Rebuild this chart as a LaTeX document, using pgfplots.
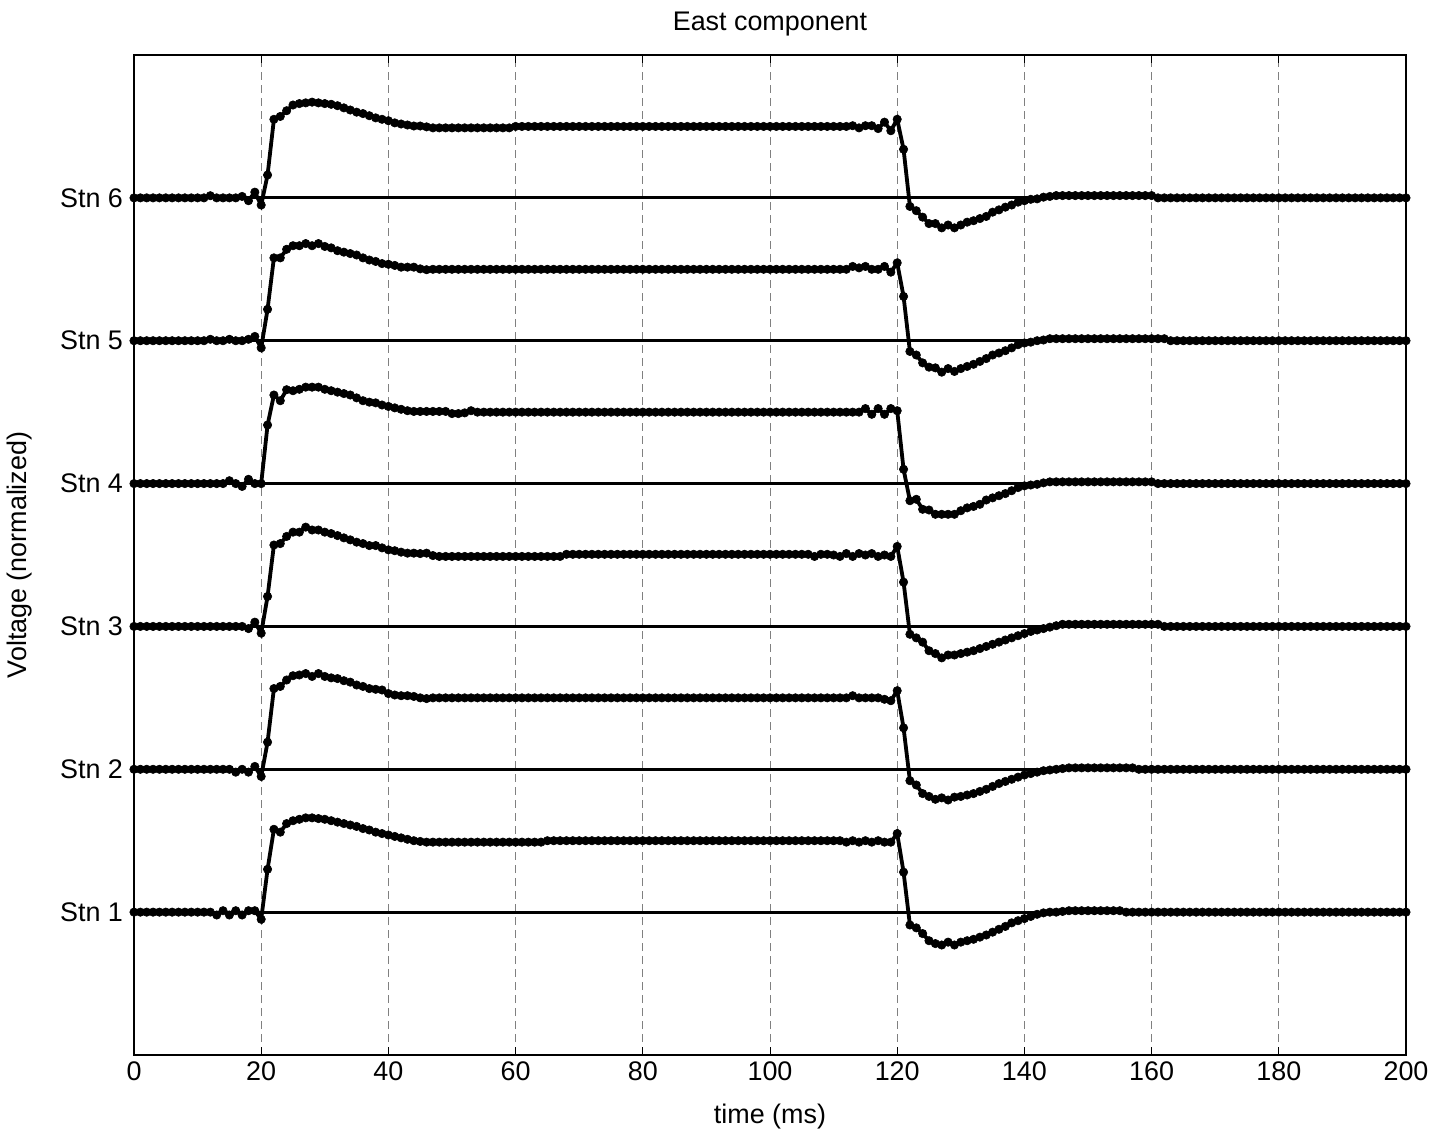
\documentclass[border=0pt]{standalone}
\usepackage{fontspec}
\setmainfont{Liberation Sans}
\usepackage{pgfplots}
\usepackage{pgfplotstable}
\pgfplotsset{compat=1.18}

% East-component voltage per station, deviation from each station's baseline
% t in ms, one sample per ms
\pgfplotstableread{
t s1 s2 s3 s4 s5 s6
0 0 0 0 0 0 0
1 0 0 0 0 0 0
2 0 0 0 0 0 0
3 0 0 0 0 0 0
4 0 0 0 0 0 0
5 0 0 0 0 0 0
6 0 0 0 0 0 0
7 0 0 0 0 0 0
8 0 0 0 0 0 0
9 0 0 0 0 0 0
10 0 0 0 0 0 0
11 0 0 0 0 0 0
12 0 0 0 0 0.01 0.015
13 -0.02 0 0 0 0 0
14 0.01 0 0 0 0 0
15 -0.02 0 0 0.02 0.01 0
16 0.01 -0.02 0 0 0 0
17 -0.02 0 0 -0.02 0 0.01
18 0.01 -0.02 -0.015 0.03 0.01 -0.02
19 0.01 0.02 0.03 0 0.03 0.04
20 -0.05 -0.05 -0.047 0 -0.05 -0.05
21 0.30 0.19 0.21 0.41 0.22 0.16
22 0.58 0.565 0.57 0.62 0.58 0.55
23 0.56 0.58 0.58 0.58 0.58 0.57
24 0.62 0.625 0.63 0.657 0.64 0.61
25 0.64 0.655 0.66 0.65 0.665 0.65
26 0.65 0.66 0.66 0.66 0.665 0.66
27 0.66 0.67 0.695 0.675 0.68 0.665
28 0.66 0.65 0.675 0.675 0.665 0.67
29 0.655 0.67 0.675 0.675 0.68 0.665
30 0.65 0.65 0.66 0.66 0.66 0.66
31 0.64 0.64 0.65 0.65 0.65 0.655
32 0.63 0.635 0.636 0.64 0.63 0.645
33 0.62 0.62 0.62 0.63 0.62 0.63
34 0.61 0.61 0.606 0.62 0.61 0.615
35 0.60 0.59 0.59 0.60 0.60 0.60
36 0.585 0.58 0.58 0.58 0.58 0.59
37 0.575 0.565 0.566 0.57 0.565 0.575
38 0.56 0.56 0.566 0.565 0.555 0.56
39 0.55 0.555 0.55 0.55 0.54 0.55
40 0.54 0.53 0.536 0.54 0.535 0.54
41 0.53 0.52 0.53 0.53 0.527 0.525
42 0.52 0.515 0.52 0.52 0.515 0.517
43 0.51 0.515 0.513 0.51 0.515 0.51
44 0.50 0.51 0.513 0.505 0.515 0.503
45 0.495 0.50 0.51 0.505 0.503 0.503
46 0.49 0.495 0.513 0.505 0.497 0.497
47 0.49 0.5 0.496 0.505 0.5 0.49
48 0.49 0.5 0.49 0.505 0.5 0.49
49 0.49 0.5 0.49 0.505 0.5 0.49
50 0.49 0.5 0.49 0.49 0.5 0.49
51 0.49 0.5 0.49 0.49 0.5 0.49
52 0.49 0.5 0.49 0.495 0.5 0.49
53 0.49 0.5 0.49 0.51 0.5 0.49
54 0.49 0.5 0.49 0.5 0.5 0.49
55 0.49 0.5 0.49 0.5 0.5 0.49
56 0.49 0.5 0.49 0.5 0.5 0.49
57 0.49 0.5 0.49 0.5 0.5 0.49
58 0.49 0.5 0.49 0.5 0.5 0.49
59 0.49 0.5 0.49 0.5 0.5 0.49
60 0.49 0.5 0.49 0.5 0.5 0.5
61 0.49 0.5 0.49 0.5 0.5 0.5
62 0.49 0.5 0.49 0.5 0.5 0.5
63 0.49 0.5 0.49 0.5 0.5 0.5
64 0.49 0.5 0.49 0.5 0.5 0.5
65 0.5 0.5 0.49 0.5 0.5 0.5
66 0.5 0.5 0.49 0.5 0.5 0.5
67 0.5 0.5 0.49 0.5 0.5 0.5
68 0.5 0.5 0.505 0.5 0.5 0.5
69 0.5 0.5 0.505 0.5 0.5 0.5
70 0.5 0.5 0.505 0.5 0.5 0.5
71 0.5 0.5 0.505 0.5 0.5 0.5
72 0.5 0.5 0.505 0.5 0.5 0.5
73 0.5 0.5 0.505 0.5 0.5 0.5
74 0.5 0.5 0.505 0.5 0.5 0.5
75 0.5 0.5 0.505 0.5 0.5 0.5
76 0.5 0.5 0.505 0.5 0.5 0.5
77 0.5 0.5 0.505 0.5 0.5 0.5
78 0.5 0.5 0.505 0.5 0.5 0.5
79 0.5 0.5 0.505 0.5 0.5 0.5
80 0.5 0.5 0.505 0.5 0.5 0.5
81 0.5 0.5 0.505 0.5 0.5 0.5
82 0.5 0.5 0.505 0.5 0.5 0.5
83 0.5 0.5 0.505 0.5 0.5 0.5
84 0.5 0.5 0.505 0.5 0.5 0.5
85 0.5 0.5 0.505 0.5 0.5 0.5
86 0.5 0.5 0.505 0.5 0.5 0.5
87 0.5 0.5 0.505 0.5 0.5 0.5
88 0.5 0.5 0.505 0.5 0.5 0.5
89 0.5 0.5 0.505 0.5 0.5 0.5
90 0.5 0.5 0.505 0.5 0.5 0.5
91 0.5 0.5 0.505 0.5 0.5 0.5
92 0.5 0.5 0.505 0.5 0.5 0.5
93 0.5 0.5 0.505 0.5 0.5 0.5
94 0.5 0.5 0.505 0.5 0.5 0.5
95 0.5 0.5 0.505 0.5 0.5 0.5
96 0.5 0.5 0.505 0.5 0.5 0.5
97 0.5 0.5 0.505 0.5 0.5 0.5
98 0.5 0.5 0.505 0.5 0.5 0.5
99 0.5 0.5 0.505 0.5 0.5 0.5
100 0.5 0.5 0.505 0.5 0.5 0.5
101 0.5 0.5 0.505 0.5 0.5 0.5
102 0.5 0.5 0.505 0.5 0.5 0.5
103 0.5 0.5 0.505 0.5 0.5 0.5
104 0.5 0.5 0.505 0.5 0.5 0.5
105 0.5 0.5 0.505 0.5 0.5 0.5
106 0.5 0.5 0.505 0.5 0.5 0.5
107 0.5 0.5 0.49 0.5 0.5 0.5
108 0.5 0.5 0.505 0.5 0.5 0.5
109 0.5 0.5 0.505 0.5 0.5 0.5
110 0.5 0.5 0.5 0.5 0.5 0.5
111 0.5 0.5 0.49 0.5 0.5 0.5
112 0.49 0.5 0.51 0.5 0.5 0.5
113 0.5 0.515 0.49 0.5 0.52 0.505
114 0.49 0.5 0.51 0.5 0.51 0.49
115 0.5 0.5 0.5 0.525 0.52 0.505
116 0.49 0.5 0.51 0.485 0.5 0.505
117 0.5 0.5 0.49 0.525 0.5 0.485
118 0.49 0.49 0.5 0.485 0.52 0.53
119 0.49 0.48 0.49 0.525 0.48 0.47
120 0.55 0.55 0.56 0.51 0.545 0.55
121 0.28 0.29 0.31 0.10 0.31 0.34
122 -0.09 -0.08 -0.055 -0.12 -0.075 -0.06
123 -0.11 -0.11 -0.08 -0.11 -0.10 -0.09
124 -0.15 -0.17 -0.11 -0.18 -0.155 -0.135
125 -0.20 -0.19 -0.17 -0.185 -0.185 -0.18
126 -0.22 -0.21 -0.19 -0.215 -0.19 -0.18
127 -0.23 -0.20 -0.22 -0.215 -0.22 -0.21
128 -0.21 -0.215 -0.20 -0.215 -0.195 -0.19
129 -0.23 -0.195 -0.20 -0.215 -0.215 -0.21
130 -0.21 -0.19 -0.19 -0.19 -0.195 -0.19
131 -0.20 -0.18 -0.18 -0.17 -0.18 -0.17
132 -0.19 -0.17 -0.17 -0.16 -0.165 -0.16
133 -0.175 -0.155 -0.155 -0.145 -0.145 -0.145
134 -0.16 -0.14 -0.14 -0.115 -0.125 -0.13
135 -0.14 -0.12 -0.125 -0.10 -0.10 -0.10
136 -0.12 -0.10 -0.11 -0.085 -0.086 -0.084
137 -0.10 -0.085 -0.095 -0.07 -0.07 -0.065
138 -0.075 -0.07 -0.08 -0.05 -0.05 -0.05
139 -0.06 -0.055 -0.065 -0.028 -0.028 -0.03
140 -0.045 -0.04 -0.05 -0.016 -0.016 -0.02
141 -0.03 -0.03 -0.035 -0.01 -0.01 -0.01
142 -0.015 -0.02 -0.025 -0.005 0 -0.007
143 -0.005 -0.01 -0.015 0.005 0.005 0.005
144 0 -0.005 -0.005 0.012 0.014 0.01
145 0 0 0.005 0.012 0.014 0.016
146 0.005 0.005 0.015 0.012 0.014 0.016
147 0.01 0.01 0.015 0.012 0.014 0.016
148 0.01 0.01 0.015 0.012 0.014 0.016
149 0.01 0.01 0.015 0.012 0.014 0.016
150 0.01 0.01 0.015 0.012 0.014 0.016
151 0.01 0.01 0.015 0.012 0.014 0.016
152 0.01 0.01 0.015 0.012 0.014 0.016
153 0.01 0.01 0.015 0.012 0.014 0.016
154 0.01 0.01 0.015 0.012 0.014 0.016
155 0.01 0.01 0.015 0.012 0.014 0.016
156 0 0.01 0.015 0.012 0.014 0.016
157 0 0.01 0.015 0.012 0.014 0.016
158 0 0 0.015 0.012 0.014 0.016
159 0 0 0.015 0.012 0.014 0.016
160 0 0 0.015 0.012 0.014 0.016
161 0 0 0.015 0 0.014 0
162 0 0 0 0 0.014 0
163 0 0 0 0 0 0
164 0 0 0 0 0 0
165 0 0 0 0 0 0
166 0 0 0 0 0 0
167 0 0 0 0 0 0
168 0 0 0 0 0 0
169 0 0 0 0 0 0
170 0 0 0 0 0 0
171 0 0 0 0 0 0
172 0 0 0 0 0 0
173 0 0 0 0 0 0
174 0 0 0 0 0 0
175 0 0 0 0 0 0
176 0 0 0 0 0 0
177 0 0 0 0 0 0
178 0 0 0 0 0 0
179 0 0 0 0 0 0
180 0 0 0 0 0 0
181 0 0 0 0 0 0
182 0 0 0 0 0 0
183 0 0 0 0 0 0
184 0 0 0 0 0 0
185 0 0 0 0 0 0
186 0 0 0 0 0 0
187 0 0 0 0 0 0
188 0 0 0 0 0 0
189 0 0 0 0 0 0
190 0 0 0 0 0 0
191 0 0 0 0 0 0
192 0 0 0 0 0 0
193 0 0 0 0 0 0
194 0 0 0 0 0 0
195 0 0 0 0 0 0
196 0 0 0 0 0 0
197 0 0 0 0 0 0
198 0 0 0 0 0 0
199 0 0 0 0 0 0
200 0 0 0 0 0 0
}\eastdata

\newcommand{\lblfont}{\fontsize{13.5}{16}\selectfont}

\begin{document}
\begin{tikzpicture}
% fixed page frame around the axis box
\path[use as bounding box] (-67bp,-39bp) rectangle (649.5bp,527.5bp);
\begin{axis}[
  at={(0,0)}, anchor=south west,
  scale only axis, width=636bp, height=500bp,
  xmin=0, xmax=200, ymin=0, ymax=7,
  xtick={0,20,...,200},
  ytick={1,2,3,4,5,6},
  yticklabels={Stn 1,Stn 2,Stn 3,Stn 4,Stn 5,Stn 6},
  tick align=inside,
  major tick length=4bp,
  tick style={black, line width=0.5bp},
  axis line style={black, line width=0.6bp},
  xmajorgrids,
  major grid style={gray, line width=0.45bp, dash pattern=on 4bp off 2.5bp},
  /pgf/number format/assume math mode=true,
  tick label style={font=\lblfont},
  yticklabel style={xshift=-2bp},
  title={East component},
  title style={font=\lblfont, at={(axis description cs:0.5,1.019)}, anchor=center},
  xlabel={time (ms)},
  xlabel style={font=\lblfont, at={(axis description cs:0.5,-0.062)}, anchor=center},
  ylabel={Voltage (normalized)},
  ylabel style={font=\lblfont, at={(axis description cs:-0.0896,0.5)}, anchor=center},
  clip=false,
  baseline/.style={black, line width=1.5bp, no marks},
  trace/.style={black, line width=1.9bp, mark=*, mark size=2.1bp,
    mark options={fill=black, draw=black, line width=0.3bp}},
]
% station baselines
\addplot[baseline] coordinates {(0,1) (200,1)};
\addplot[baseline] coordinates {(0,2) (200,2)};
\addplot[baseline] coordinates {(0,3) (200,3)};
\addplot[baseline] coordinates {(0,4) (200,4)};
\addplot[baseline] coordinates {(0,5) (200,5)};
\addplot[baseline] coordinates {(0,6) (200,6)};
% recorded traces, each offset to its station row
\addplot[trace] table[x=t, y expr=\thisrow{s1}+1] {\eastdata};
\addplot[trace] table[x=t, y expr=\thisrow{s2}+2] {\eastdata};
\addplot[trace] table[x=t, y expr=\thisrow{s3}+3] {\eastdata};
\addplot[trace] table[x=t, y expr=\thisrow{s4}+4] {\eastdata};
\addplot[trace] table[x=t, y expr=\thisrow{s5}+5] {\eastdata};
\addplot[trace] table[x=t, y expr=\thisrow{s6}+6] {\eastdata};
\end{axis}
\end{tikzpicture}
\end{document}
